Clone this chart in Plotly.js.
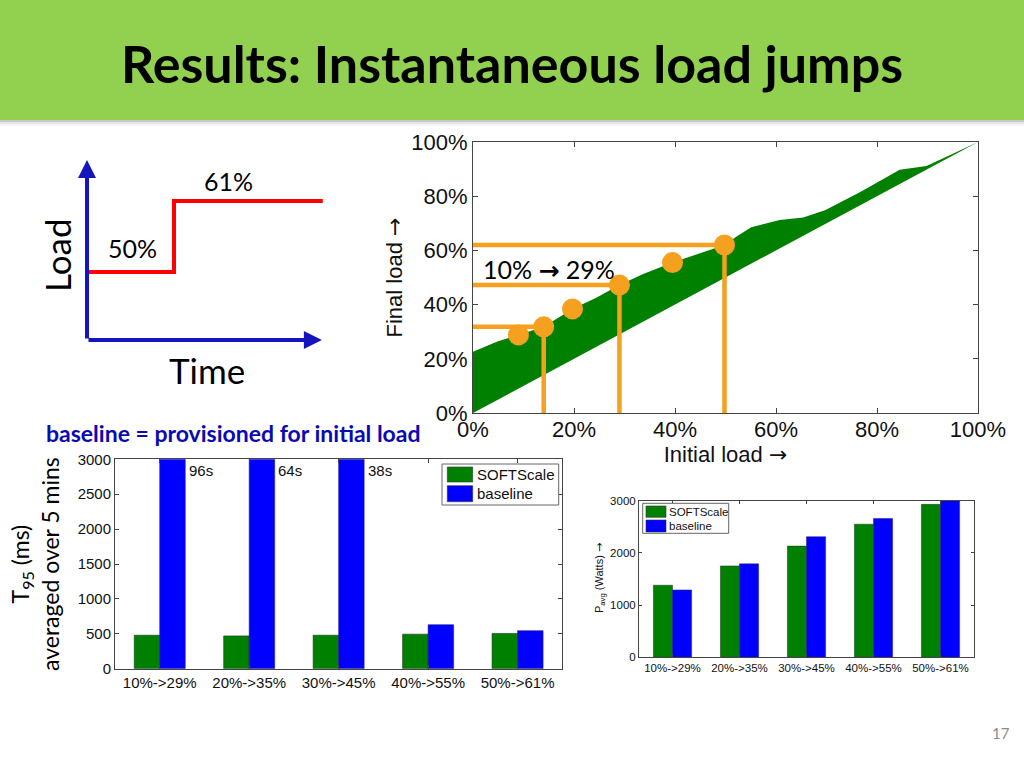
<!DOCTYPE html>
<html><head><meta charset="utf-8">
<script src="https://cdn.plot.ly/plotly-3.0.1.min.js"></script>
<style>html,body{margin:0;padding:0;background:#fff}#chart{width:1024px;height:768px}</style>
</head><body><div id="chart"></div>
<script>
// ---------- text ----------
const slideTitle = 'Results: Instantaneous load jumps';
const pageNumber = '17';
const noteText = 'baseline = provisioned for initial load';
const jumpLabel = '10% <span style="font-family:DejaVu Sans;font-weight:bold">\u2192</span> 29%';
const ARROW = '<span style="font-family:DejaVu Sans">\u2192</span>';

// ---------- schematic (load vs time) ----------
const stepTimes = [0, 1, 2.71];
const stepLoads = [50, 61, 61];

// ---------- main chart: final load vs initial load ----------
const pctTicks = [0, 20, 40, 60, 80, 100];
const upperInitial = [0, 4.7, 9, 14, 19.7, 24.5, 29, 33.7, 39.5, 44.9, 49.8, 52.2, 55.1, 60.7, 65.4, 69.7, 76.6, 84.5, 89.8, 100];
const upperFinal   = [22.6, 26.3, 28.8, 31.8, 38.4, 42.6, 47.2, 51.3, 55.5, 58.9, 62, 65.1, 68.5, 71.2, 72.1, 74.8, 81.5, 89.8, 91.1, 100];
const lowerInitial = [0, 100];
const lowerFinal   = [0, 100];
const dotInitial = [9, 14, 19.7, 29, 39.5, 49.8];
const dotFinal   = [28.8, 31.8, 38.4, 47.2, 55.5, 62];
const highlightInitial = [14, 29, 49.8];
const highlightFinal   = [31.8, 47.2, 62];

// ---------- bar charts ----------
const categories = ['10%->29%', '20%->35%', '30%->45%', '40%->55%', '50%->61%'];
const seriesNames = ['SOFTScale', 'baseline'];
const softscaleT95 = [480, 470, 480, 495, 505];
const baselineT95  = [96000, 64000, 38000, 630, 545];
const softscalePower = [1380, 1750, 2130, 2550, 2930];
const baselinePower  = [1290, 1790, 2310, 2660, 2995];

// ---------- styles ----------
const GREEN = '#008000', BLUE = '#0000FF', ORANGE = '#F5A01E';
const AR = 'Liberation Sans, Arial, sans-serif';
const CAL = 'Lato, Carlito, sans-serif';
const AX = '#444';
const px = x => x / 1024, py = y => 1 - y / 768;

// polygon for the band
const bandX = upperInitial.concat(lowerInitial.slice().reverse());
const bandY = upperFinal.concat(lowerFinal.slice().reverse());
const hlX = [], hlY = [];
highlightInitial.forEach((xi, i) => { hlX.push(0, xi, xi, null); hlY.push(highlightFinal[i], highlightFinal[i], 0, null); });

const traces = [
  {type:'scatter', x:bandX, y:bandY, fill:'toself', fillcolor:GREEN, mode:'lines', line:{width:0, color:GREEN}, xaxis:'x', yaxis:'y', showlegend:false, hoverinfo:'skip'},
  {type:'scatter', x:hlX, y:hlY, mode:'lines', line:{color:ORANGE, width:4.5}, xaxis:'x', yaxis:'y', showlegend:false, connectgaps:false},
  {type:'scatter', x:dotInitial, y:dotFinal, mode:'markers', marker:{color:ORANGE, size:21}, xaxis:'x', yaxis:'y', showlegend:false, cliponaxis:false},
  // T95 bars
  {type:'bar', x:categories, y:softscaleT95, name:seriesNames[0], marker:{color:GREEN, line:{color:'#1a3a1a', width:0.6}}, xaxis:'x2', yaxis:'y2', showlegend:false},
  {type:'bar', x:categories, y:baselineT95, name:seriesNames[1], marker:{color:BLUE, line:{color:'#202080', width:0.6}}, xaxis:'x2', yaxis:'y2', showlegend:false},
  // Power bars
  {type:'bar', x:categories, y:softscalePower, name:seriesNames[0], marker:{color:GREEN, line:{color:'#1a3a1a', width:0.5}}, xaxis:'x3', yaxis:'y3', showlegend:false},
  {type:'bar', x:categories, y:baselinePower, name:seriesNames[1], marker:{color:BLUE, line:{color:'#202080', width:0.5}}, xaxis:'x3', yaxis:'y3', showlegend:false},
  // schematic step
  {type:'scatter', x:stepTimes, y:stepLoads, mode:'lines', line:{shape:'hv', color:'#FF0000', width:4}, xaxis:'x4', yaxis:'y4', showlegend:false}
];

const Y4 = [39.46, 67.35];
const X4 = [0, 2.7126];

function boxAxis(extra) {
  return Object.assign({showline:true, linecolor:AX, linewidth:1, mirror:'ticks', ticks:'inside', tickcolor:AX, showgrid:false, zeroline:false}, extra);
}
function note(x, y, text, font, extra) {
  return Object.assign({xref:'paper', yref:'paper', x:px(x), y:py(y), text:text, showarrow:false, xanchor:'center', yanchor:'middle', font:font}, extra || {});
}

const annotations = [
  note(512, 63, '<b>' + slideTitle + '</b>', {family:CAL, size:52, color:'#000'}),
  note(1001, 733, pageNumber, {family:CAL, size:15, color:'#8b8b8b'}),
  note(44, 433, '<b>' + noteText + '</b>', {family:CAL, size:23, color:'#0A0AB4'}, {xanchor:'left'}),
  {xref:'x', yref:'y', x:1.5, y:53, text:jumpLabel, showarrow:false, xanchor:'left', yanchor:'middle', font:{family:CAL, size:25, color:'#000'}},
  // schematic labels
  note(132, 248, stepLoads[0] + '%', {family:CAL, size:25, color:'#000'}),
  note(228, 181, stepLoads[1] + '%', {family:CAL, size:25, color:'#000'}),
  note(57, 255, 'Load', {family:CAL, size:35, color:'#000'}, {textangle:-90}),
  note(207, 370, 'Time', {family:CAL, size:35, color:'#000'}),
  // schematic axes arrows
  {xref:'x4', yref:'y4', axref:'x4', ayref:'y4', x:0, y:Y4[1], ax:0, ay:Y4[0], text:'', showarrow:true, arrowhead:2, arrowsize:0.9, arrowwidth:4, arrowcolor:'#1515C0', standoff:0},
  {xref:'x4', yref:'y4', axref:'x4', ayref:'y4', x:2.70, y:Y4[0], ax:0, ay:Y4[0], text:'', showarrow:true, arrowhead:2, arrowsize:0.9, arrowwidth:4, arrowcolor:'#1515C0', standoff:0},
  // bottom-left y title
  note(35, 564, 'T<sub>95</sub> (ms)<br>averaged over 5 mins', {family:CAL, size:23, color:'#000'}, {textangle:-90}),
  // bottom-right y title
  note(600, 578, 'P<sub>avg</sub> (Watts) ' + ARROW, {family:AR, size:11, color:'#111'}, {textangle:-90})
];

// labels for clipped baseline bars
baselineT95.forEach((v, i) => {
  if (v > 3000) annotations.push({xref:'x2', yref:'y2', x:categories[i], y:3000, text:(v/1000) + 's', showarrow:false, xanchor:'left', yanchor:'top', xshift:27, yshift:-1, font:{family:AR, size:15, color:'#111'}});
});

// custom legends (MATLAB style) and title bar
const shapes = [
  {type:'rect', xref:'paper', yref:'paper', x0:0, x1:1, y0:py(120), y1:1, fillcolor:'#92D050', line:{width:0}, layer:'below'},
  {type:'rect', xref:'paper', yref:'paper', x0:0, x1:1, y0:py(122), y1:py(120), fillcolor:'rgba(0,0,0,0.22)', line:{width:0}, layer:'below'},
  {type:'rect', xref:'paper', yref:'paper', x0:0, x1:1, y0:py(124), y1:py(122), fillcolor:'rgba(0,0,0,0.10)', line:{width:0}, layer:'below'},
  {type:'rect', xref:'paper', yref:'paper', x0:0, x1:1, y0:py(126), y1:py(124), fillcolor:'rgba(0,0,0,0.04)', line:{width:0}, layer:'below'}
];
function legend(box, sw, textX, rows, fontSize) {
  shapes.push({type:'rect', xref:'paper', yref:'paper', x0:px(box[0]), x1:px(box[1]), y0:py(box[3]), y1:py(box[2]), fillcolor:'#fff', line:{color:'#666', width:1}, layer:'above'});
  rows.forEach((r, i) => {
    shapes.push({type:'rect', xref:'paper', yref:'paper', x0:px(sw[0]), x1:px(sw[1]), y0:py(r.y1), y1:py(r.y0), fillcolor:r.color, line:{color:'#333', width:0.6}, layer:'above'});
    annotations.push(note(textX, (r.y0 + r.y1) / 2, seriesNames[i], {family:AR, size:fontSize, color:'#111'}, {xanchor:'left'}));
  });
}
legend([442, 558.7, 464, 505], [447.3, 472.7], 474.5, [{y0:467, y1:482, color:GREEN}, {y0:485.7, y1:501.7, color:BLUE}], 15);
legend([642.7, 728.7, 503.3, 533.3], [646, 666], 667, [{y0:506, y1:517.3, color:GREEN}, {y0:520, y1:532, color:BLUE}], 11.5);

const layout = {
  width:1024, height:768, margin:{l:0, r:0, t:0, b:0, pad:0},
  paper_bgcolor:'#fff', plot_bgcolor:'#fff',
  barmode:'group', bargap:0.43, bargroupgap:0,
  showlegend:false,
  xaxis: boxAxis({domain:[px(473), px(978)], anchor:'y', range:[0, 100], tickvals:pctTicks, ticktext:pctTicks.map(v => v + '%'), ticklen:5,
    ticklabelstandoff:-3,
    tickfont:{family:AR, size:22, color:'#111'}, title:{text:'Initial load ' + ARROW, font:{family:AR, size:22, color:'#111'}, standoff:0}}),
  yaxis: boxAxis({domain:[py(413), py(142)], anchor:'x', range:[0, 100], tickvals:pctTicks, ticktext:pctTicks.map(v => v + '%'), ticklen:5,
    tickfont:{family:AR, size:22, color:'#111'}, title:{text:'Final load ' + ARROW, font:{family:AR, size:22, color:'#111'}, standoff:2}}),
  xaxis2: boxAxis({domain:[px(115), px(562.3)], anchor:'y2', type:'category', range:[-0.5, 4.5], ticklen:4, tickfont:{family:AR, size:15, color:'#111'}}),
  yaxis2: boxAxis({domain:[py(668.7), py(459.3)], anchor:'x2', range:[0, 3000], dtick:500, ticklen:4, tickfont:{family:AR, size:15, color:'#111'}}),
  xaxis3: boxAxis({domain:[px(639), px(974)], anchor:'y3', type:'category', range:[-0.5, 4.5], ticklen:3, tickfont:{family:AR, size:11.5, color:'#111'}}),
  yaxis3: boxAxis({domain:[py(657.3), py(500.7)], anchor:'x3', range:[0, 3000], dtick:1000, ticklen:3, tickfont:{family:AR, size:11.5, color:'#111'}}),
  xaxis4: {domain:[px(87), px(323)], anchor:'y4', range:X4, visible:false},
  yaxis4: {domain:[py(340), py(160)], anchor:'x4', range:Y4, visible:false},
  annotations: annotations,
  shapes: shapes
};

Plotly.newPlot('chart', traces, layout, {displayModeBar:false, staticPlot:true});
</script>
</body></html>
